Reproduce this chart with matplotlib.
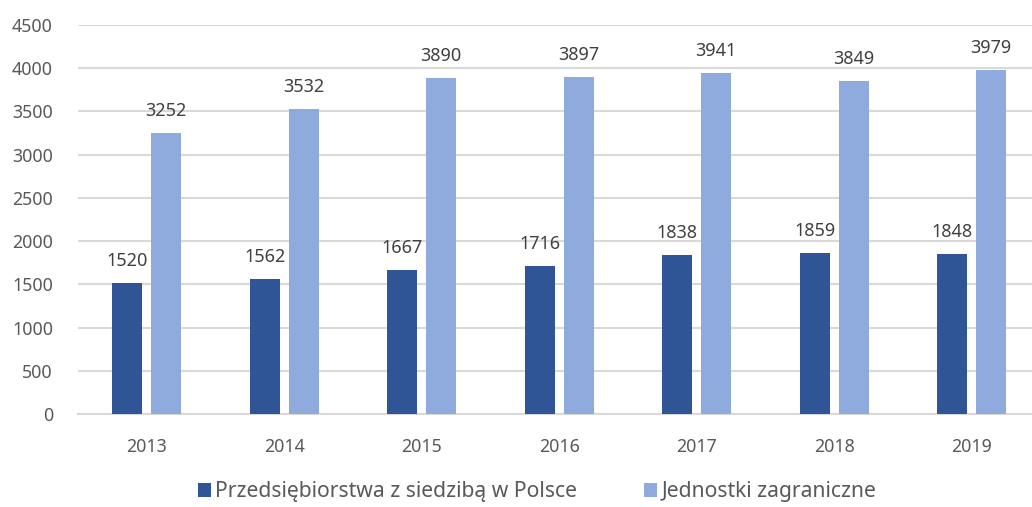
import numpy as np
import matplotlib.pyplot as plt

years = ["2013", "2014", "2015", "2016", "2017", "2018", "2019"]
polskie = [1520, 1562, 1667, 1716, 1838, 1859, 1848]
zagraniczne = [3252, 3532, 3890, 3897, 3941, 3849, 3979]
labels = ["Przedsiębiorstwa z siedzibą w Polsce", "Jednostki zagraniczne"]

plt.rcParams['font.family'] = ['Noto Sans', 'DejaVu Sans']

fig = plt.figure(figsize=(10.32, 5.07), dpi=100)
ax = fig.add_axes([78 / 1032, 93 / 507, 962.5 / 1032, 389 / 507])

x = np.arange(len(years))
w = 0.218
off = 0.142
b1 = ax.bar(x - off, polskie, w, color='#2F5597', label=labels[0], zorder=3)
b2 = ax.bar(x + off, zagraniczne, w, color='#8FAADC', label=labels[1], zorder=3)

for bars, vals in [(b1, polskie), (b2, zagraniczne)]:
    for r, v in zip(bars, vals):
        ax.text(r.get_x() + r.get_width() / 2, v + 150, str(v), ha='center', va='bottom',
                fontsize=13, color='#404040')

ax.set_xlim(-0.5, len(years) - 0.5)
ax.set_ylim(0, 4500)
ax.set_yticks(np.arange(0, 4501, 500))
ax.set_xticks(x)
ax.set_xticklabels(years)
ax.tick_params(axis='both', length=0, labelsize=12.8, colors='#595959')
ax.tick_params(axis='x', pad=17)
ax.tick_params(axis='y', pad=18)
ax.grid(axis='y', color='#D9D9D9', linewidth=1.5, zorder=0)
for s in ['top', 'right', 'left']:
    ax.spines[s].set_visible(False)
ax.spines['bottom'].set_color('#D9D9D9')
ax.spines['bottom'].set_linewidth(1.5)

fig.legend(loc='center', bbox_to_anchor=(537 / 1032, 1 - 492 / 507), ncol=2, frameon=False,
           fontsize=15.2, handlelength=0.6, handleheight=0.6, handletextpad=0.2,
           columnspacing=3.2, labelcolor='#595959', borderpad=0.1)

plt.savefig("out.png", dpi=100)
